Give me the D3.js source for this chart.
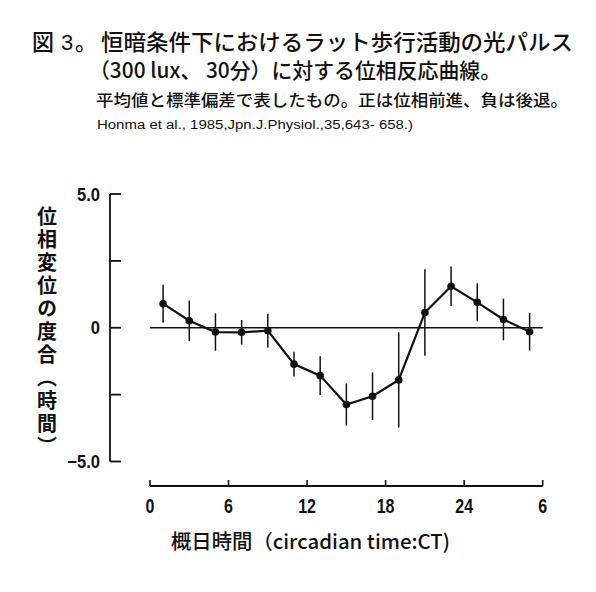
<!DOCTYPE html>
<html>
<head>
<meta charset="utf-8">
<script src="https://cdn.jsdelivr.net/npm/d3@7"></script>
<style>
  body { margin: 0; background: #fff; }
  .jp { font-family: "Noto Sans CJK JP", sans-serif; fill: #111; }
  .tick-label { font-family: "Liberation Sans", Arial, sans-serif; font-weight: bold; fill: #111; }
</style>
</head>
<body>
<div id="chart"></div>
<script>
// circadian time of each light pulse (hours)
var ct = [1, 3, 5, 7, 9, 11, 13, 15, 17, 19, 21, 23, 25, 27, 29];
// mean phase shift (hours)
var shift = [0.9, 0.26, -0.16, -0.17, -0.11, -1.36, -1.79, -2.87, -2.56, -1.95, 0.57, 1.55, 0.95, 0.31, -0.15];
// standard deviation (hours)
var sd = [0.71, 0.76, 0.70, 0.46, 0.63, 0.46, 0.72, 0.79, 0.89, 1.78, 1.62, 0.74, 0.71, 0.78, 0.70];

var xTicks = [0, 6, 12, 18, 24, 30],
    xTickLabels = ['0', '6', '12', '18', '24', '6'];
var yTicks = [5, 2.5, 0, -2.5, -5],
    yTickLabels = {'5': '5.0', '0': '0', '-5': '\u22125.0'};

var data = ct.map(function(d, i) { return {ct: d, shift: shift[i], sd: sd[i]}; });

var svg = d3.select('#chart').append('svg')
    .attr('width', 596)
    .attr('height', 592);

var xScale = d3.scaleLinear().domain([0, 30]).range([150, 542.7]),
    yScale = d3.scaleLinear().domain([-5, 5]).range([461.5, 194]);

// title block
var figNo = svg.append('g').attr('class', 'jp')
    .style('font-size', '22px').style('font-weight', 500);
figNo.append('text').attr('x', 32).attr('y', 50).text('図');
figNo.append('text').attr('x', 61).attr('y', 50)
    .style('font-family', '"Liberation Sans", Arial, sans-serif').style('font-weight', 'normal')
    .text('3');
figNo.append('text').attr('x', 75).attr('y', 50).text('。');

svg.append('text').attr('class', 'jp')
    .attr('x', 101).attr('y', 50)
    .attr('textLength', 472).attr('lengthAdjust', 'spacingAndGlyphs')
    .style('font-size', '22px').style('font-weight', 500)
    .text('恒暗条件下におけるラット歩行活動の光パルス');
svg.append('text').attr('class', 'jp')
    .attr('x', 89).attr('y', 78)
    .attr('textLength', 412).attr('lengthAdjust', 'spacingAndGlyphs')
    .style('font-size', '21px').style('font-weight', 500)
    .text('（300 lux、 30分）に対する位相反応曲線。');
svg.append('text').attr('class', 'jp')
    .attr('x', 96).attr('y', 106)
    .attr('textLength', 472).attr('lengthAdjust', 'spacingAndGlyphs')
    .style('font-size', '16px').style('font-weight', 500)
    .text('平均値と標準偏差で表したもの。正は位相前進、負は後退。');
svg.append('text')
    .attr('x', 97).attr('y', 129)
    .attr('textLength', 316).attr('lengthAdjust', 'spacingAndGlyphs')
    .style('font-family', '"Liberation Sans", Arial, sans-serif')
    .style('font-size', '12.5px').style('fill', '#111')
    .text('Honma et al., 1985,Jpn.J.Physiol.,35,643- 658.)');

// y axis, drawn off to the left of the plot
var yAxis = svg.append('g')
    .attr('transform', 'translate(110,0)');
yAxis.append('line')
    .attr('y1', yScale(5)).attr('y2', yScale(-5))
    .style('stroke', '#111').style('stroke-width', 1.8);
yAxis.selectAll('.ytick')
    .data(yTicks)
  .enter().append('line')
    .attr('x1', 0).attr('x2', 11)
    .attr('y1', function(d) { return yScale(d); })
    .attr('y2', function(d) { return yScale(d); })
    .style('stroke', '#111').style('stroke-width', 1.8);
yAxis.selectAll('.ylabel')
    .data(yTicks.filter(function(d) { return yTickLabels[d] !== undefined; }))
  .enter().append('text')
    .attr('class', 'tick-label')
    .attr('transform', function(d) { return 'translate(-10,' + (yScale(d) + 6.5) + ') scale(0.92,1)'; })
    .style('text-anchor', 'end')
    .style('font-size', '18px')
    .text(function(d) { return yTickLabels[d]; });

svg.append('text').attr('class', 'jp')
    .attr('x', 47).attr('y', 206)
    .style('writing-mode', 'vertical-rl')
    .style('font-size', '20px').style('font-weight', 'bold')
    .style('letter-spacing', '3px')
    .text('位相変位の度合（時間）');

// x axis
var xAxis = svg.append('g')
    .attr('transform', 'translate(0,486)');
xAxis.append('line')
    .attr('x1', xScale(0)).attr('x2', xScale(30))
    .style('stroke', '#111').style('stroke-width', 1.8);
xAxis.selectAll('.xtick')
    .data(xTicks)
  .enter().append('line')
    .attr('x1', function(d) { return xScale(d); })
    .attr('x2', function(d) { return xScale(d); })
    .attr('y1', 0).attr('y2', -6)
    .style('stroke', '#111').style('stroke-width', 1.6);
xAxis.selectAll('.xlabel')
    .data(xTicks)
  .enter().append('text')
    .attr('class', 'tick-label')
    .attr('transform', function(d) { return 'translate(' + xScale(d) + ',27) scale(0.8,1.05)'; })
    .style('text-anchor', 'middle')
    .style('font-size', '20px')
    .text(function(d, i) { return xTickLabels[i]; });

svg.append('text').attr('class', 'jp')
    .attr('x', 171).attr('y', 549)
    .attr('textLength', 279).attr('lengthAdjust', 'spacingAndGlyphs')
    .style('font-size', '20px').style('font-weight', 500)
    .text('概日時間（circadian time:CT)');

// zero line
svg.append('line')
    .attr('x1', xScale(0)).attr('x2', xScale(30))
    .attr('y1', yScale(0)).attr('y2', yScale(0))
    .style('stroke', '#111').style('stroke-width', 1.3);

// error bars
svg.selectAll('.err')
    .data(data)
  .enter().append('line')
    .attr('x1', function(d) { return xScale(d.ct); })
    .attr('x2', function(d) { return xScale(d.ct); })
    .attr('y1', function(d) { return yScale(d.shift + d.sd); })
    .attr('y2', function(d) { return yScale(d.shift - d.sd); })
    .style('stroke', '#111').style('stroke-width', 1.5);

// mean curve
var line = d3.line()
    .x(function(d) { return xScale(d.ct); })
    .y(function(d) { return yScale(d.shift); });

svg.append('path')
    .datum(data)
    .attr('d', line)
    .style('fill', 'none')
    .style('stroke', '#111')
    .style('stroke-width', 2.2);

svg.selectAll('.pt')
    .data(data)
  .enter().append('circle')
    .attr('cx', function(d) { return xScale(d.ct); })
    .attr('cy', function(d) { return yScale(d.shift); })
    .attr('r', 3.8)
    .style('fill', '#111');
</script>
</body>
</html>
